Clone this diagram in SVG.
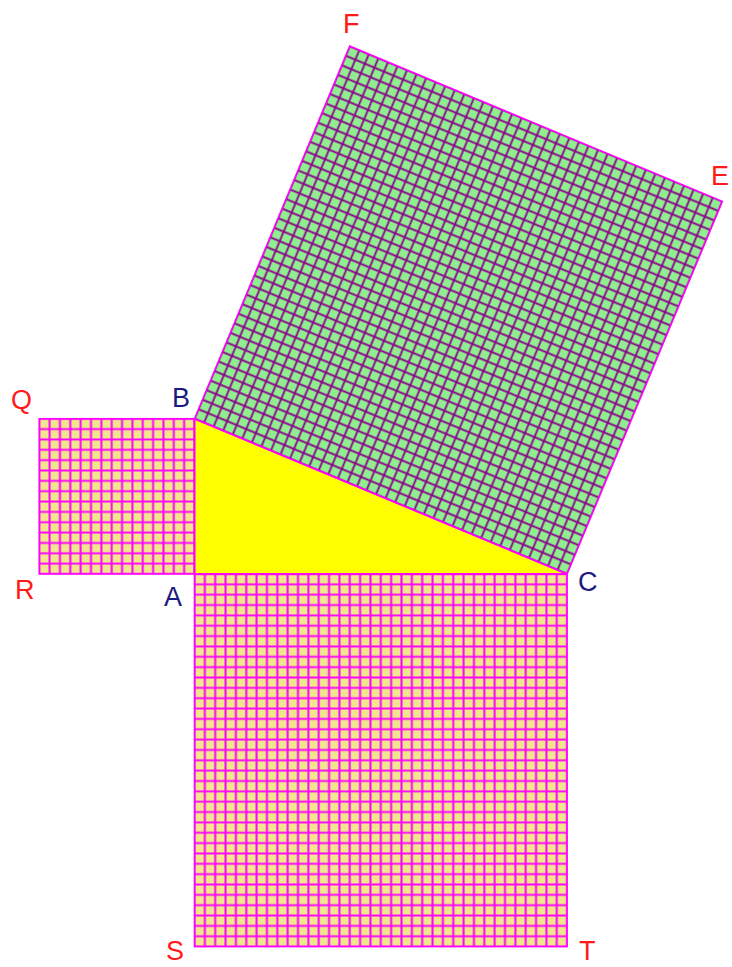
<svg xmlns="http://www.w3.org/2000/svg" width="732" height="967" viewBox="0 0 732 967">
<style>
.lbl{font-family:"Liberation Sans",Arial,sans-serif;font-size:27px}
.red{fill:#ff1a1a}
.blue{fill:#1a1a80}
.border{fill:none;stroke:#ff00ff;stroke-width:1.6}
</style>
<defs>
<pattern id="khaki" patternUnits="userSpaceOnUse" x="34.075" y="413.575" width="10.35" height="10.35">
<rect width="10.35" height="10.35" fill="#f0e68c"/>
<path d="M5.175 0V10.35M0 5.175H10.35" stroke="#ff00ff" stroke-width="2" fill="none"/>
</pattern>
<pattern id="green" patternUnits="userSpaceOnUse" x="-5.175" y="-5.175" width="10.35" height="10.35">
<rect width="10.35" height="10.35" fill="#90ee90"/>
<path d="M5.175 0V10.35M0 5.175H10.35" stroke="#8b008b" stroke-width="1.8" fill="none"/>
</pattern>
</defs>
<rect width="732" height="967" fill="#ffffff"/>
<g id="triangle">
<polygon points="194.5,574 194.5,418.75 567.1,574" fill="#ffff00"/>
</g>
<g id="square-AB">
<rect x="39.25" y="418.75" width="155.25" height="155.25" class="border" style="fill:url(#khaki)"/>
</g>
<g id="square-AC">
<rect x="194.5" y="574" width="372.6" height="372.6" class="border" style="fill:url(#khaki)"/>
</g>
<g id="square-BC" transform="translate(194.5,418.75) rotate(22.62)">
<rect x="0" y="-403.65" width="403.65" height="403.65" class="border" style="fill:url(#green)"/>
</g>
<g id="edges">
<line x1="194.5" y1="418.75" x2="194.5" y2="574" stroke="#ff00ff" stroke-width="1.6"/>
<line x1="194.5" y1="574" x2="567.1" y2="574" stroke="#ff00ff" stroke-width="1.6"/>
<line x1="194.5" y1="418.75" x2="567.1" y2="574" stroke="#ff00ff" stroke-width="1.6"/>
</g>
<g id="labels">
<text class="lbl red" x="11" y="409">Q</text>
<text class="lbl blue" x="172" y="407">B</text>
<text class="lbl red" x="15" y="599">R</text>
<text class="lbl blue" x="164" y="606">A</text>
<text class="lbl blue" x="578" y="591">C</text>
<text class="lbl red" x="166" y="960">S</text>
<text class="lbl red" x="579" y="960">T</text>
<text class="lbl red" x="343" y="33">F</text>
<text class="lbl red" x="711" y="185">E</text>
</g>
</svg>
